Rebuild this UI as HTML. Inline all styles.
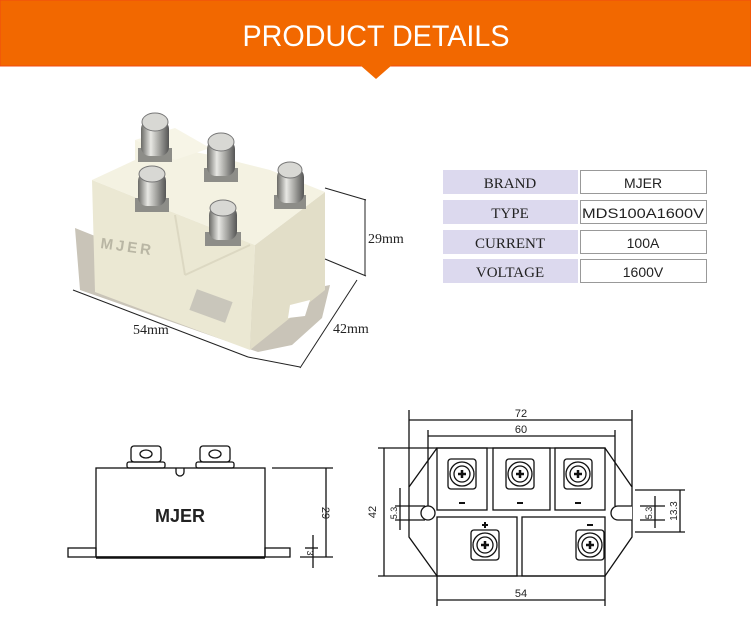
<!DOCTYPE html>
<html><head><meta charset="utf-8"><style>
html,body{margin:0;padding:0;background:#fff;width:751px;height:624px;overflow:hidden}
svg{display:block}
</style></head><body>
<svg width="751" height="624" viewBox="0 0 751 624" xmlns="http://www.w3.org/2000/svg">
<defs>
<linearGradient id="met" x1="0" x2="1" y1="0" y2="0">
<stop offset="0" stop-color="#6a6a66"/><stop offset="0.35" stop-color="#e8e8e4"/><stop offset="0.7" stop-color="#9a9a96"/><stop offset="1" stop-color="#555"/>
</linearGradient>
</defs>
<rect x="0" y="0" width="751" height="66" fill="#f26800" stroke="#f24a10" stroke-width="1"/>
<polygon points="360,65 392,65 376,79" fill="#f26800"/>
<text x="376" y="46" fill="#fff" font-family="Liberation Sans, sans-serif" font-size="30" text-anchor="middle" textLength="267" lengthAdjust="spacingAndGlyphs">PRODUCT  DETAILS</text>

<!-- table -->
<g font-size="15">
<rect x="443" y="170" width="135" height="24" fill="#dcd9ee"/>
<rect x="443" y="200" width="135" height="24" fill="#dcd9ee"/>
<rect x="443" y="230" width="135" height="24" fill="#dcd9ee"/>
<rect x="443" y="259" width="135" height="24" fill="#dcd9ee"/>
<g fill="none" stroke="#999">
<rect x="580.5" y="170.5" width="126" height="23"/>
<rect x="580.5" y="200.5" width="126" height="23"/>
<rect x="580.5" y="230.5" width="126" height="23"/>
<rect x="580.5" y="259.5" width="126" height="23"/>
</g>
<g font-family="Liberation Serif, serif" text-anchor="middle" fill="#222">
<text x="510" y="188">BRAND</text><text x="510" y="218">TYPE</text>
<text x="510" y="248">CURRENT</text><text x="510" y="277">VOLTAGE</text>
</g>
<g font-family="Liberation Sans, sans-serif" text-anchor="middle" fill="#222" font-size="14">
<text x="643" y="188">MJER</text>
<text x="643" y="218" textLength="122" lengthAdjust="spacingAndGlyphs">MDS100A1600V</text>
<text x="643" y="248">100A</text><text x="643" y="277">1600V</text>
</g>
</g>

<!-- photo approximation -->
<polygon points="75,228 255,300 330,285 322,318 292,345 258,352 80,290" fill="#c9c4b8"/>
<!-- front face -->
<polygon points="92,180 255,245 250,350 95,292" fill="#ebe8d3"/>
<!-- right face -->
<polygon points="255,245 325,192 325,290 250,350" fill="#e2dec8"/>
<!-- top surface -->
<polygon points="92,180 135,160 135,140 210,155 270,170 325,192 255,245" fill="#f4f2e2"/>
<polygon points="135,140 175,128 210,148 175,160" fill="#f7f5e7"/>
<line x1="175" y1="215" x2="185" y2="275" stroke="#dcd8c2" stroke-width="2"/>
<line x1="185" y1="275" x2="250" y2="245" stroke="#dcd8c2" stroke-width="2"/>
<polygon points="290,305 310,300 305,316 288,318" fill="#fff"/>
<!-- screws -->
<g>
<rect x="138" y="148" width="34" height="14" fill="#8d8d88"/>
<rect x="141" y="120" width="28" height="36" rx="9" fill="url(#met)"/>
<ellipse cx="155" cy="122" rx="13" ry="9" fill="#d8d8d4" stroke="#777"/>
<rect x="204" y="168" width="34" height="14" fill="#8d8d88"/>
<rect x="207" y="140" width="28" height="36" rx="9" fill="url(#met)"/>
<ellipse cx="221" cy="142" rx="13" ry="9" fill="#d8d8d4" stroke="#777"/>
<rect x="274" y="195" width="32" height="14" fill="#8d8d88"/>
<rect x="277" y="168" width="27" height="35" rx="9" fill="url(#met)"/>
<ellipse cx="290" cy="170" rx="12" ry="8" fill="#d8d8d4" stroke="#777"/>
<rect x="135" y="198" width="34" height="14" fill="#8d8d88"/>
<rect x="138" y="172" width="28" height="34" rx="9" fill="url(#met)"/>
<ellipse cx="152" cy="174" rx="13" ry="8" fill="#d8d8d4" stroke="#777"/>
<rect x="205" y="232" width="36" height="14" fill="#8d8d88"/>
<rect x="209" y="206" width="28" height="34" rx="9" fill="url(#met)"/>
<ellipse cx="223" cy="208" rx="13" ry="8" fill="#d8d8d4" stroke="#777"/>
</g>
<text transform="translate(100,248) rotate(8)" fill="#b9b6a4" font-family="Liberation Sans, sans-serif" font-weight="bold" font-size="15" letter-spacing="3">MJER</text>
<rect x="192" y="295" width="38" height="22" fill="#c9c6bb" transform="rotate(20 211 306)"/>
<g stroke="#222" stroke-width="1" fill="none">
<line x1="325" y1="188" x2="366" y2="200"/><line x1="325" y1="259" x2="366" y2="276"/><line x1="365" y1="199" x2="365" y2="276"/>
<line x1="357" y1="280" x2="300" y2="368"/><line x1="73" y1="290" x2="248" y2="357"/><line x1="248" y1="357" x2="300" y2="367"/>
</g>
<g font-family="Liberation Serif, serif" font-size="14" fill="#222">
<text x="368" y="243">29mm</text><text x="133" y="334">54mm</text><text x="333" y="333">42mm</text>
</g>

<!-- side view -->
<g stroke="#111" fill="none" stroke-width="1.3">
<rect x="96" y="468" width="169" height="89" fill="#fff"/>
<rect x="68" y="548" width="28" height="9"/><rect x="265" y="548" width="25" height="9"/>
<line x1="96" y1="557.5" x2="265" y2="557.5" stroke-width="2.5"/>
<rect x="127" y="462" width="38" height="6" rx="2"/><rect x="131" y="446" width="30" height="16" rx="3"/>
<rect x="196" y="462" width="38" height="6" rx="2"/><rect x="200" y="446" width="30" height="16" rx="3"/>
<ellipse cx="146" cy="454" rx="6" ry="4"/><ellipse cx="215" cy="454" rx="6" ry="4"/>
<path d="M176,468 v4 a4,4 0 0 0 8,0 v-4"/>
<line x1="272" y1="468" x2="333" y2="468"/><line x1="326" y1="468" x2="326" y2="557"/>
<line x1="300" y1="557" x2="333" y2="557"/><line x1="313" y1="535" x2="313" y2="568"/><line x1="305" y1="548" x2="318" y2="548"/>
</g>
<text x="180" y="522" font-family="Liberation Sans, sans-serif" font-weight="bold" font-size="18" text-anchor="middle" fill="#222">MJER</text>
<text transform="translate(322,513) rotate(90)" font-family="Liberation Sans, sans-serif" font-size="11" text-anchor="middle" fill="#222">29</text>
<text transform="translate(307,553) rotate(90)" font-family="Liberation Sans, sans-serif" font-size="9" text-anchor="middle" fill="#222">3</text>

<!-- top view -->
<g stroke="#111" fill="none" stroke-width="1.3">
<polygon points="437,448 605,448 632,487 632,537 605,576 437,576 409,537 409,487"/>
<rect x="437" y="448" width="50" height="62"/><rect x="493" y="448" width="57" height="62"/><rect x="555" y="448" width="50" height="62"/>
<rect x="437" y="517" width="80" height="59"/><rect x="522" y="517" width="83" height="59"/>
<circle cx="428" cy="513" r="7"/>
<path d="M632,506 h-14 a7,7 0 0 0 0,14 h14" fill="#fff"/>
<line x1="409" y1="410" x2="409" y2="487"/><line x1="632" y1="410" x2="632" y2="487"/>
<line x1="409" y1="420" x2="632" y2="420"/>
<line x1="428" y1="430" x2="428" y2="506"/><line x1="615" y1="430" x2="615" y2="506"/>
<line x1="428" y1="436" x2="615" y2="436"/>
<line x1="378" y1="448" x2="437" y2="448"/><line x1="378" y1="576" x2="437" y2="576"/><line x1="384" y1="448" x2="384" y2="576"/>
<line x1="400" y1="488" x2="400" y2="530"/><line x1="395" y1="506" x2="425" y2="506"/><line x1="395" y1="520" x2="425" y2="520"/>
<line x1="437" y1="576" x2="437" y2="606"/><line x1="605" y1="576" x2="605" y2="606"/><line x1="437" y1="600" x2="605" y2="600"/>
<line x1="635" y1="490" x2="685" y2="490"/><line x1="635" y1="532" x2="685" y2="532"/><line x1="680" y1="490" x2="680" y2="532"/>
<line x1="640" y1="506" x2="665" y2="506"/><line x1="640" y1="520" x2="665" y2="520"/><line x1="655" y1="496" x2="655" y2="528"/>
</g>
<g stroke="#111" stroke-width="1.3" fill="#fff">
<g transform="translate(462,474)"><rect x="-14" y="-15" width="28" height="30" rx="3"/><circle r="12"/><circle r="8"/><path d="M-4,0h8M0,-4v8" stroke-width="2.5"/></g>
<g transform="translate(520,474)"><rect x="-14" y="-15" width="28" height="30" rx="3"/><circle r="12"/><circle r="8"/><path d="M-4,0h8M0,-4v8" stroke-width="2.5"/></g>
<g transform="translate(578,474)"><rect x="-14" y="-15" width="28" height="30" rx="3"/><circle r="12"/><circle r="8"/><path d="M-4,0h8M0,-4v8" stroke-width="2.5"/></g>
<g transform="translate(485,545)"><rect x="-14" y="-15" width="28" height="30" rx="3"/><circle r="12"/><circle r="8"/><path d="M-4,0h8M0,-4v8" stroke-width="2.5"/></g>
<g transform="translate(590,545)"><rect x="-14" y="-15" width="28" height="30" rx="3"/><circle r="12"/><circle r="8"/><path d="M-4,0h8M0,-4v8" stroke-width="2.5"/></g>
</g>
<g stroke="#111" stroke-width="2">
<line x1="459" y1="503" x2="465" y2="503"/><line x1="517" y1="503" x2="523" y2="503"/><line x1="575" y1="503" x2="581" y2="503"/>
<line x1="482" y1="525" x2="488" y2="525"/><line x1="485" y1="522" x2="485" y2="528"/><line x1="587" y1="525" x2="593" y2="525"/>
</g>
<g font-family="Liberation Sans, sans-serif" font-size="11" fill="#222" text-anchor="middle">
<text x="521" y="417">72</text><text x="521" y="433">60</text><text x="521" y="597">54</text>
<text transform="translate(376,512) rotate(-90)">42</text>
<text transform="translate(397,513) rotate(-90)" font-size="9">5.3</text>
<text transform="translate(652,513) rotate(-90)" font-size="9">5.3</text>
<text transform="translate(677,511) rotate(-90)" font-size="10">13.3</text>
</g>
</svg>
</body></html>
